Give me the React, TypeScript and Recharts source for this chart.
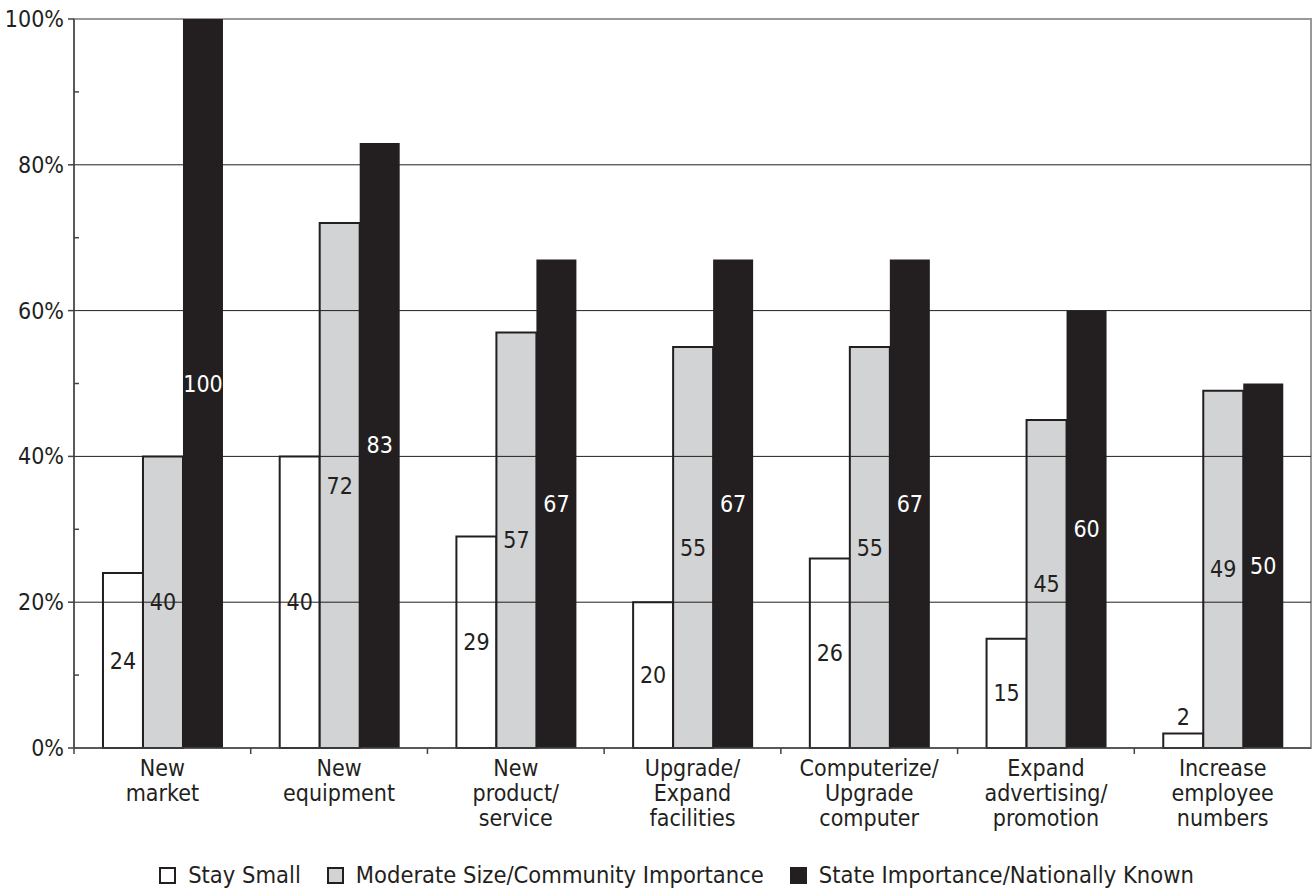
import React from 'react';
import { BarChart, Bar, XAxis, YAxis, ReferenceLine, ReferenceArea, LabelList, Legend } from 'recharts';

const categories = [
  'New\nmarket',
  'New\nequipment',
  'New\nproduct/\nservice',
  'Upgrade/\nExpand\nfacilities',
  'Computerize/\nUpgrade\ncomputer',
  'Expand\nadvertising/\npromotion',
  'Increase\nemployee\nnumbers',
];
const staySmall = [24, 40, 29, 20, 26, 15, 2];
const moderateSize = [40, 72, 57, 55, 55, 45, 49];
const stateImportance = [100, 83, 67, 67, 67, 60, 50];
const yTicks = [0, 10, 20, 30, 40, 50, 60, 70, 80, 90, 100];
const gridValues = [20, 40, 60, 80];

const seriesNames = [
  'Stay Small',
  'Moderate Size/Community Importance',
  'State Importance/Nationally Known',
];

const data = categories.map((name, i) => ({
  name,
  small: staySmall[i],
  moderate: moderateSize[i],
  state: stateImportance[i],
}));

const FONT = "'Liberation Sans Narrow', 'DejaVu Sans Condensed', 'Arial Narrow', sans-serif";
const INK = '#231f20';
const GRAY = '#d1d3d4';

const YTick = (props: any) => {
  const { x, y, payload } = props;
  const v = payload.value;
  if (v % 20 !== 0) {
    return <line x1={x + 10} x2={x + 15} y1={y} y2={y} stroke="#444" strokeWidth={1.5} />;
  }
  return (
    <g>
      <line x1={x + 4} x2={x + 10} y1={y} y2={y} stroke="#444" strokeWidth={1.5} />
      <text x={x} y={y} dy={8} textAnchor="end" fontFamily={FONT} fontSize={23} fill={INK}>
        {v}%
      </text>
    </g>
  );
};

const XTick = (props: any) => {
  const { x, y, payload } = props;
  const half = payload.offset || 88.4;
  const lines = String(payload.value).split('\n');
  return (
    <g>
      <line x1={x - half} x2={x - half} y1={y - 10} y2={y - 4} stroke="#444" strokeWidth={1.5} />
      <text x={x} y={y} textAnchor="middle" fontFamily={FONT} fontSize={23} fill={INK}>
        {lines.map((l, i) => (
          <tspan key={i} x={x} dy={i === 0 ? 18 : 25}>
            {l}
          </tspan>
        ))}
      </text>
    </g>
  );
};

const makeLabel = (color: string) => (props: any) => {
  const { x, y, width, height, value } = props;
  const small = height < 28;
  return (
    <text
      x={x + width / 2}
      y={small ? y - 8 : y + height / 2 + 8}
      textAnchor="middle"
      fontFamily={FONT}
      fontSize={23}
      fill={small ? INK : color}
    >
      {value}
    </text>
  );
};

const LegendBox = () => {
  const swatches = [
    { fill: '#fff', name: seriesNames[0] },
    { fill: GRAY, name: seriesNames[1] },
    { fill: INK, name: seriesNames[2] },
  ];
  return (
    <div
      style={{
        height: 34,
        display: 'flex',
        justifyContent: 'center',
        alignItems: 'center',
        gap: 26,
        paddingLeft: 42,
        fontFamily: FONT,
        fontSize: 23.5,
        color: INK,
      }}
    >
      {swatches.map((s) => (
        <div key={s.name} style={{ display: 'flex', alignItems: 'center', gap: 12 }}>
          <div
            style={{
              width: 13,
              height: 13,
              background: s.fill,
              border: `2px solid ${INK}`,
            }}
          />
          <span>{s.name}</span>
        </div>
      ))}
    </div>
  );
};

export default function App() {
  return (
    <div style={{ position: 'absolute', left: 0, top: 0, background: '#fff' }}>
      <BarChart
        width={1313}
        height={892}
        data={data}
        margin={{ top: 19, right: 2, left: 0, bottom: 0 }}
        barCategoryGap="16.4%"
        barGap={0}
      >
        <ReferenceArea y1={0} y2={100} fill="none" stroke="#999" strokeWidth={2} />
        {gridValues.map((g) => (
          <ReferenceLine key={g} y={g} stroke={INK} strokeWidth={1} />
        ))}
        <XAxis
          dataKey="name"
          interval={0}
          height={110}
          tickSize={6}
          tickMargin={4}
          tickLine={false}
          axisLine={{ stroke: '#444', strokeWidth: 1.5 }}
          tick={<XTick />}
        />
        <YAxis
          width={74}
          domain={[0, 100]}
          ticks={yTicks}
          interval={0}
          tickSize={6}
          tickMargin={4}
          tickLine={false}
          axisLine={{ stroke: '#444', strokeWidth: 1.5 }}
          tick={<YTick />}
        />
        <Legend verticalAlign="bottom" content={<LegendBox />} />
        <Bar dataKey="small" name={seriesNames[0]} fill="#fff" stroke={INK} strokeWidth={2} isAnimationActive={false}>
          <LabelList dataKey="small" content={makeLabel(INK)} />
        </Bar>
        <Bar dataKey="moderate" name={seriesNames[1]} fill={GRAY} stroke={INK} strokeWidth={2} isAnimationActive={false}>
          <LabelList dataKey="moderate" content={makeLabel(INK)} />
        </Bar>
        <Bar dataKey="state" name={seriesNames[2]} fill={INK} isAnimationActive={false}>
          <LabelList dataKey="state" content={makeLabel('#fff')} />
        </Bar>
      </BarChart>
    </div>
  );
}
